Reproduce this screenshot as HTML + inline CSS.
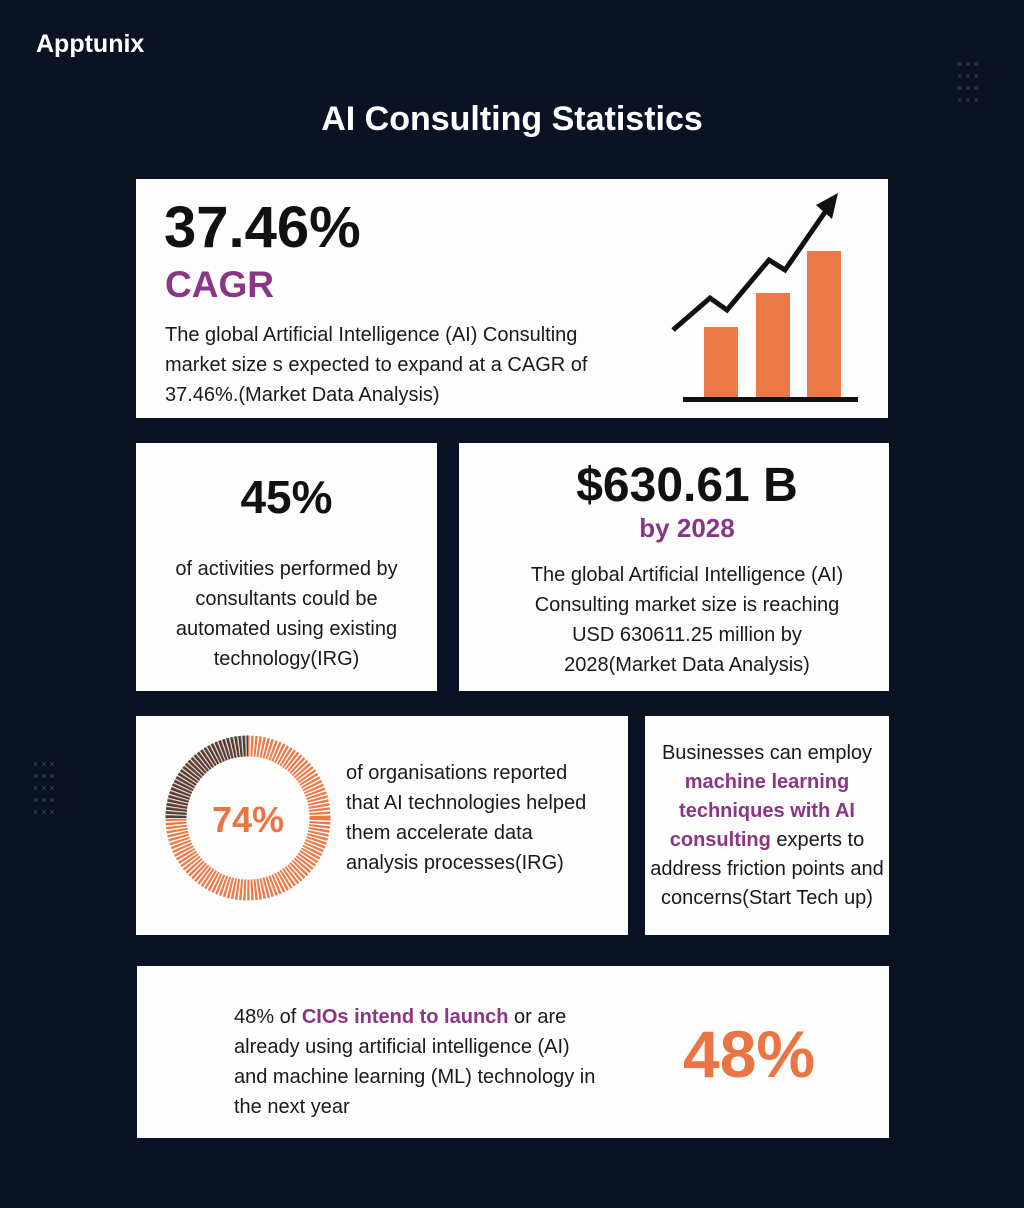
<!DOCTYPE html>
<html><head><style>
body{margin:0;width:1024px;height:1208px;background:#0b1224;font-family:"Liberation Sans",sans-serif;position:relative;overflow:hidden}
.c{position:absolute;background:#fdfdfd}
.t{position:absolute;color:#1a1a1a;font-size:20px;line-height:30px}
.p{color:#8b3585;font-weight:bold}
.o{color:#ea7543;font-weight:bold}
.x{position:absolute;color:#4a5164;font-size:9px;line-height:12px;letter-spacing:3px}
</style></head><body>
<div style="position:absolute;left:36px;top:30px;color:#fff;font-size:25px;font-weight:bold">Apptunix</div>
<div class="x" style="left:957px;top:58px">×××<br>×××<br>×××<br>×××</div>
<div class="x" style="left:33px;top:758px">×××<br>×××<br>×××<br>×××<br>×××</div>
<div style="position:absolute;left:0;width:1024px;top:100px;text-align:center;color:#fff;font-size:34px;font-weight:bold">AI Consulting Statistics</div>

<div class="c" style="left:136px;top:179px;width:752px;height:239px"></div>
<div style="position:absolute;left:164px;top:194px;font-size:58px;font-weight:bold;color:#111">37.46%</div>
<div class="p" style="position:absolute;left:165px;top:264px;font-size:37px">CAGR</div>
<div class="t" style="left:165px;top:320px">The global Artificial Intelligence (AI) Consulting<br>market size s expected to expand at a CAGR of<br>37.46%.(Market Data Analysis)</div>
<svg style="position:absolute;left:660px;top:185px" width="220" height="225">
<rect x="44" y="142" width="34" height="70" fill="#ec7a48"/>
<rect x="96" y="108" width="34" height="104" fill="#ec7a48"/>
<rect x="147" y="66" width="34" height="146" fill="#ec7a48"/>
<rect x="23" y="212" width="175" height="5" fill="#111"/>
<polyline points="13,145 50,113 67,125 109,75 125,85 170,20" fill="none" stroke="#111" stroke-width="5"/>
<polygon points="178,8 156,20 172,34" fill="#111"/>
</svg>

<div class="c" style="left:136px;top:443px;width:301px;height:248px"></div>
<div style="position:absolute;left:136px;width:301px;top:470px;text-align:center;font-size:46px;font-weight:bold;color:#111">45%</div>
<div class="t" style="left:136px;width:301px;top:554px;text-align:center">of activities performed by<br>consultants could be<br>automated using existing<br>technology(IRG)</div>

<div class="c" style="left:459px;top:443px;width:430px;height:248px"></div>
<div style="position:absolute;left:459px;width:456px;top:458px;text-align:center;font-size:48px;font-weight:bold;color:#111">$630.61 B</div>
<div class="p" style="position:absolute;left:459px;width:456px;top:513px;text-align:center;font-size:26px">by 2028</div>
<div class="t" style="left:459px;width:456px;top:560px;text-align:center">The global Artificial Intelligence (AI)<br>Consulting market size is reaching<br>USD 630611.25 million by<br>2028(Market Data Analysis)</div>

<div class="c" style="left:136px;top:716px;width:492px;height:219px"></div>
<svg style="position:absolute;left:160px;top:730px" width="180" height="180">
<circle cx="88" cy="88" r="72" fill="none" stroke="#ec7a48" stroke-width="21" stroke-dasharray="2.2 1.4"/>
<path d="M16 88 A72 72 0 0 1 88 16" fill="none" stroke="#444" stroke-width="21" stroke-dasharray="2.2 1.4"/>
<text x="88" y="102" text-anchor="middle" font-family="Liberation Sans" font-size="36" font-weight="bold" fill="#ea7543">74%</text>
</svg>
<div class="t" style="left:346px;top:758px">of organisations reported<br>that AI technologies helped<br>them accelerate data<br>analysis processes(IRG)</div>

<div class="c" style="left:645px;top:716px;width:244px;height:219px"></div>
<div class="t" style="left:645px;width:244px;top:739px;text-align:center;line-height:29px">Businesses can employ<br><span class="p">machine learning<br>techniques with AI<br>consulting</span> experts to<br>address friction points and<br>concerns(Start Tech up)</div>

<div class="c" style="left:137px;top:966px;width:752px;height:172px"></div>
<div class="t" style="left:234px;top:1002px">48% of <span class="p">CIOs intend to launch</span> or are<br>already using artificial intelligence (AI)<br>and machine learning (ML) technology in<br>the next year</div>
<div class="o" style="position:absolute;left:683px;top:1016px;font-size:66px">48%</div>
</body></html>
